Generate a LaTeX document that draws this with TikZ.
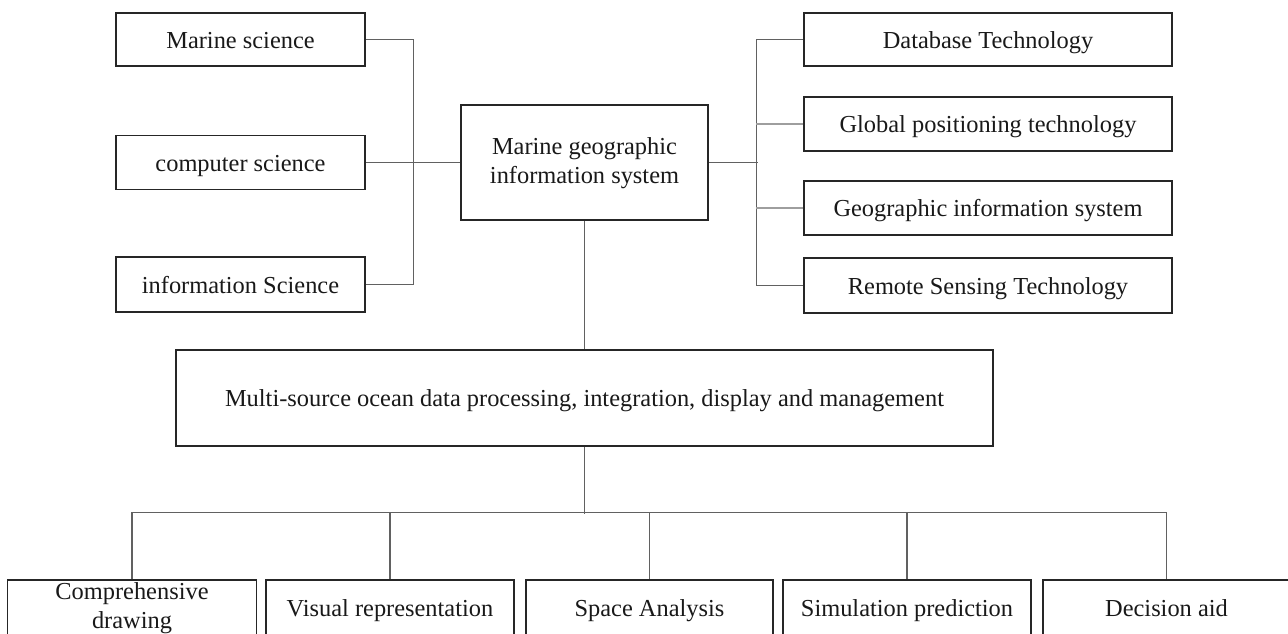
\documentclass[tikz,border=0pt]{standalone}
\usepackage{fontspec}
\setmainfont{Liberation Serif}
\begin{document}
\begin{tikzpicture}[x=1pt,y=-1pt,
  box/.style={draw=black!85, line width=1.7pt, fill=white, inner sep=0pt, align=center,
    font=\fontsize{24.4}{29}\selectfont, text=black!90},
  one/.style={text height=19pt, text depth=2pt},
  conn/.style={draw=black!62, line width=1.2pt},
  connl/.style={draw=black!38, line width=1.2pt}]
\clip (0,0) rectangle (1288,633);
\fill[white] (0,0) rectangle (1288,633);
% left boxes
\node[box, one, minimum width=249pt, minimum height=53pt] (ms) at (240.5,39.5) {Marine science};
\node[box, one, minimum width=249pt, minimum height=54pt] (cs) at (240.5,162.5) {computer science};
\node[box, one, minimum width=249pt, minimum height=55pt] (is) at (240.5,284.5) {information Science};
% central
\node[box, minimum width=247pt, minimum height=115pt, text depth=4pt] (mg) at (584.5,162.5) {Marine geographic\\information system};
% right boxes
\node[box, one, minimum width=368pt, minimum height=53pt] (db) at (988,39.5) {Database Technology};
\node[box, one, minimum width=368pt, minimum height=54pt] (gp) at (988,124) {Global positioning technology};
\node[box, one, minimum width=368pt, minimum height=54pt] (gi) at (988,208) {Geographic information system};
\node[box, one, minimum width=368pt, minimum height=55pt] (rs) at (988,285.5) {Remote Sensing Technology};
% multi
\node[box, one, minimum width=817pt, minimum height=96pt] (mu) at (584.5,398) {Multi-source ocean data processing, integration, display and management};
% bottom
\node[box, minimum width=249pt, minimum height=56pt] (b1) at (132,608) {Comprehensive\\drawing};
\node[box, one, minimum width=248pt, minimum height=56pt] (b2) at (390,608) {Visual representation};
\node[box, one, minimum width=247pt, minimum height=56pt] (b3) at (649.5,608) {Space Analysis};
\node[box, one, minimum width=248pt, minimum height=56pt] (b4) at (907,608) {Simulation prediction};
\node[box, one, minimum width=247pt, minimum height=56pt] (b5) at (1166.5,608) {Decision aid};
% connectors left
\draw[conn] (ms.east) -- ++(48,0) |- (is.east);
\draw[conn] (cs.east) -- (mg.west);
% connectors right
\draw[conn] (mg.east) -- ++(49,0);
\draw[conn] (db.west) -- ++(-47,0) |- (rs.west);
\draw[connl] (gp.west) -- ++(-47,0);
\draw[connl] (gi.west) -- ++(-47,0);
% vertical
\draw[conn] (mg.south) -- (mu.north);
\draw[conn] (mu.south) -- ++(0,67) coordinate (bc);
\draw[conn] (b1.north) -- ++(0,-67) -| (b5.north);
\draw[conn] (b2.north) -- ++(0,-67);
\draw[conn] (b3.north) -- ++(0,-67);
\draw[conn] (b4.north) -- ++(0,-67);
\end{tikzpicture}
\end{document}
